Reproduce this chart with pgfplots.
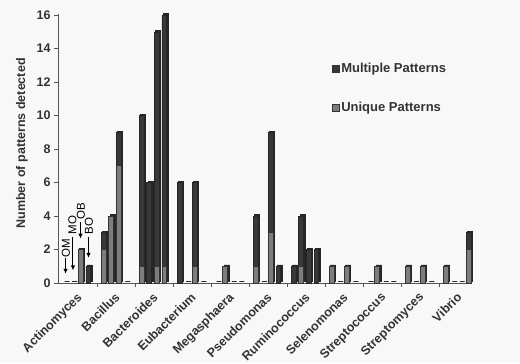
\documentclass[border=0pt]{standalone}
\usepackage{pgfplots}
\pgfplotsset{compat=1.18}
\usepackage{pgfplotstable}
\usepackage{fontspec}
\setmainfont{Liberation Sans}
\usetikzlibrary{arrows.meta}
\definecolor{bg}{HTML}{F8F8F8}
\definecolor{multi}{HTML}{383838}
\definecolor{uniq}{HTML}{7D7D7D}
\definecolor{side}{HTML}{262626}
\definecolor{txt}{HTML}{333333}
\definecolor{axc}{HTML}{555555}
\pgfplotstableread{
x u m t
1 0 0 0
2 0 0 0
3 2 0 2
4 0 1 1
6 2 1 3
7 4 0 4
8 7 2 9
9 0 0 0
11 1 9 10
12 0 6 6
13 1 14 15
14 1 15 16
16 0 6 6
17 0 0 0
18 1 5 6
19 0 0 0
21 0 0 0
22 1 0 1
23 0 0 0
24 0 0 0
26 1 3 4
27 0 0 0
28 3 6 9
29 0 1 1
31 0 1 1
32 1 3 4
33 0 2 2
34 0 2 2
36 1 0 1
37 0 0 0
38 1 0 1
39 0 0 0
41 0 0 0
42 1 0 1
43 0 0 0
44 0 0 0
46 1 0 1
47 0 0 0
48 1 0 1
49 0 0 0
51 1 0 1
52 0 0 0
53 0 0 0
54 2 1 3
}\data
\newcommand{\lf}{\fontsize{12.5bp}{14bp}\selectfont\bfseries}
\newcommand{\lgf}{\fontsize{13bp}{15bp}\selectfont\bfseries}
\newcommand{\af}{\fontsize{11.5bp}{13bp}\selectfont}
\begin{document}
\begin{tikzpicture}[x=1bp,y=1bp]
\useasboundingbox[fill=bg] (-58,-80) rectangle (462,283);
% depth layer (3D side of the bars)
\begin{axis}[
  at={(1.4bp,1.3bp)}, anchor=south west, scale only axis,
  width=412bp, height=269.5bp,
  xmin=0, xmax=54.2, ymin=0, ymax=16.1,
  ybar, bar width=0.64, hide axis, clip=false,
]
\addplot[fill=side, draw=side, line width=0.9bp] table[x=x, y=t] {\data};
\end{axis}
\begin{axis}[
  at={(0,0)}, anchor=south west, scale only axis,
  width=412bp, height=269.5bp,
  xmin=0, xmax=54.2, ymin=0, ymax=16.1,
  ybar stacked, bar width=0.64,
  axis lines*=left,
  axis line style={axc, line width=1bp},
  ytick={0,2,...,16},
  xtick={5.15,10.15,...,50.15},
  xticklabels={},
  extra x ticks={2.65,7.65,...,52.65},
  extra x tick labels={Actinomyces,Bacillus,Bacteroides,Eubacterium,Megasphaera,Pseudomonas,Ruminococcus,Selenomonas,Streptococcus,Streptomyces,Vibrio},
  extra x tick style={major tick length=0pt, tick label style={rotate=45, anchor=north east, inner sep=0.5bp, yshift=-4bp, xshift=-7bp}},
  tick align=outside,
  major tick length=4bp,
  tick style={axc, line width=0.8bp},
  /pgf/number format/assume math mode=true,
  tick label style={font=\lf, text=txt},
  ylabel={Number of patterns detected},
  every axis y label/.style={at={(axis description cs:-0.0874,0.518)}, rotate=90, anchor=center, font=\lf, text=txt},
  legend style={at={(axis description cs:0.664,0.824)}, anchor=north west, draw=none, fill=none, font=\lgf, row sep=24.5bp, inner sep=0pt, cells={anchor=west, text=txt}},
  reverse legend,
  legend image code/.code={\draw[#1, draw=black!80, line width=0.5bp] (0bp,-3.5bp) rectangle (7bp,3.5bp);},
  clip=false,
]
\addplot[fill=uniq, draw=black!80, line width=0.8bp] table[x=x, y=u] {\data};
\addlegendentry{Unique Patterns}
\addplot[fill=multi, draw=black!85, line width=0.8bp] table[x=x, y=m] {\data};
\addlegendentry{Multiple Patterns}
\node[rotate=90, font=\af, text=black] at (axis cs:1.05,2.09) {OM};
\draw[-{Latex[length=5bp,width=4.5bp]}, line width=1bp] (axis cs:0.99,1.49) -- (axis cs:0.99,0.55);
\node[rotate=90, font=\af, text=black] at (axis cs:1.91,3.46) {MO};
\draw[-{Latex[length=5bp,width=4.5bp]}, line width=1bp] (axis cs:1.97,2.75) -- (axis cs:1.97,0.75);
\node[rotate=90, font=\af, text=black] at (axis cs:3.03,4.27) {OB};
\draw[-{Latex[length=5bp,width=4.5bp]}, line width=1bp] (axis cs:2.96,3.64) -- (axis cs:2.96,2.65);
\node[rotate=90, font=\af, text=black] at (axis cs:4.08,3.40) {BO};
\draw[-{Latex[length=5bp,width=4.5bp]}, line width=1bp] (axis cs:4.01,2.75) -- (axis cs:4.01,1.5);
\end{axis}
\end{tikzpicture}
\end{document}
